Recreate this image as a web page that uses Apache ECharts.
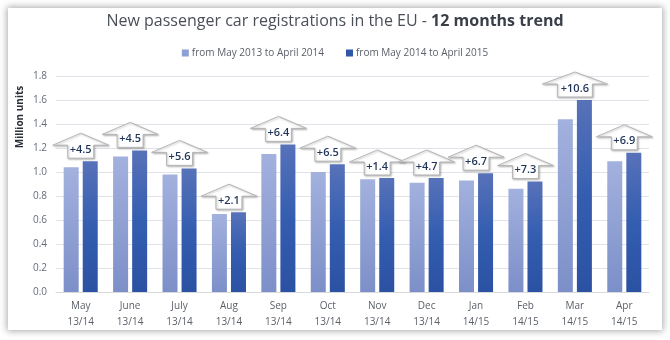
<!DOCTYPE html>
<html>
<head>
<meta charset="utf-8">
<script src="https://cdn.jsdelivr.net/npm/echarts@6/dist/echarts.min.js"></script>
<style>
  html, body { margin: 0; padding: 0; background: #ffffff; }
  #panel { position: absolute; left: 8px; top: 8px; width: 654px; height: 322px;
           background: #ffffff; box-shadow: 0 0 7px 1px rgba(0,0,0,0.35); }
  #chart { position: absolute; left: 0; top: 0; width: 670px; height: 340px; }
</style>
</head>
<body>
<div id="panel"></div>
<div id="chart"></div>
<script>
// Monthly new passenger car registrations (million units)
const months = ['May', 'June', 'July', 'Aug', 'Sep', 'Oct', 'Nov', 'Dec', 'Jan', 'Feb', 'Mar', 'Apr'];
const seasons = ['13/14', '13/14', '13/14', '13/14', '13/14', '13/14', '13/14', '13/14', '14/15', '14/15', '14/15', '14/15'];
const prevYear = [1.04, 1.13, 0.98, 0.65, 1.15, 1.00, 0.94, 0.91, 0.93, 0.86, 1.44, 1.09];
const currYear = [1.09, 1.18, 1.03, 0.665, 1.23, 1.065, 0.95, 0.95, 0.99, 0.92, 1.60, 1.16];
// Year-on-year change (%) shown in the arrows
const changes = ['+4.5', '+4.5', '+5.6', '+2.1', '+6.4', '+6.5', '+1.4', '+4.7', '+6.7', '+7.3', '+10.6', '+6.9'];
const yTicks = { min: 0, max: 1.8, interval: 0.2 };

const seriesNames = ['from May 2013 to April 2014', 'from May 2014 to April 2015'];
const categories = months.map((m, i) => m + '\n' + seasons[i]);

const chart = echarts.init(document.getElementById('chart'), null, { renderer: 'canvas' });

const lightGrad = new echarts.graphic.LinearGradient(0, 0, 0, 1, [
  { offset: 0, color: '#a3b1de' }, { offset: 1, color: '#7c8fc8' }
]);
const darkGrad = new echarts.graphic.LinearGradient(0, 0, 0, 1, [
  { offset: 0, color: '#5772b9' }, { offset: 0.5, color: '#345db0' }, { offset: 1, color: '#2b51a2' }
]);

// Up-arrow callout sitting above each pair of bars
function renderArrow(params, api) {
  const idx = api.value(0);
  const top = api.value(1);
  const label = changes[idx];
  const p = api.coord([idx, top]);
  const cx = p[0];
  const bottom = p[1] - 3;
  const boxW = label.length * 9 - 10;
  const headW = boxW + 30;
  const boxH = 13, headH = 12;
  const pts = [
    [cx - boxW / 2, bottom], [cx + boxW / 2, bottom], [cx + boxW / 2, bottom - boxH],
    [cx + headW / 2, bottom - boxH], [cx, bottom - boxH - headH], [cx - headW / 2, bottom - boxH],
    [cx - boxW / 2, bottom - boxH]
  ];
  return {
    type: 'group',
    children: [
      {
        type: 'polygon',
        shape: { points: pts },
        style: {
          fill: '#ffffff', stroke: '#b5b5b5', lineWidth: 1,
          shadowColor: 'rgba(0,0,0,0.25)', shadowBlur: 2, shadowOffsetX: 1, shadowOffsetY: 1
        }
      },
      {
        type: 'text',
        x: cx, y: bottom - boxH / 2 - 2,
        style: {
          text: label, fill: '#1f3458', font: '600 11px "Open Sans", sans-serif',
          align: 'center', verticalAlign: 'middle'
        }
      }
    ]
  };
}

const arrowData = currYear.map((v, i) => [i, Math.max(v, prevYear[i])]);

chart.setOption({
  animation: false,
  title: {
    text: '{a|New passenger car registrations in the EU - }{b|12 months trend}',
    left: 'center', top: 8,
    textStyle: {
      rich: {
        a: { fontFamily: 'Open Sans', fontSize: 16, color: '#4a4f58', fontWeight: 'normal' },
        b: { fontFamily: 'Open Sans', fontSize: 16, color: '#3a3f48', fontWeight: 'bold' }
      }
    }
  },
  legend: {
    top: 43, left: 'center', itemWidth: 7, itemHeight: 7, itemGap: 22,
    icon: 'rect',
    textStyle: { fontFamily: 'Open Sans', fontSize: 10, color: '#5a5f68', padding: [0, 0, 0, -2] },
    data: [
      { name: seriesNames[0], itemStyle: { color: '#8ea0d6' } },
      { name: seriesNames[1], itemStyle: { color: '#3157a8' } }
    ]
  },
  grid: { left: 56, right: 21, top: 76, bottom: 48, containLabel: false },
  xAxis: {
    type: 'category', data: categories,
    axisLine: { lineStyle: { color: '#d6d9de' } },
    axisTick: { show: false },
    axisLabel: { fontFamily: 'Open Sans', fontSize: 10, color: '#5a5f68', lineHeight: 16, margin: 6 }
  },
  yAxis: {
    type: 'value', min: yTicks.min, max: yTicks.max, interval: yTicks.interval,
    axisLine: { show: false }, axisTick: { show: false },
    splitLine: { lineStyle: { color: '#dfe2e8' } },
    axisLabel: {
      fontFamily: 'Open Sans', fontSize: 10, color: '#646c7c', margin: 9,
      formatter: v => v.toFixed(1)
    }
  },
  graphic: [{
    type: 'text', x: 20, y: 117, rotation: Math.PI / 2,
    style: {
      text: 'Million units', fill: '#2a2f38', font: 'bold 10px "Open Sans", sans-serif',
      align: 'center', verticalAlign: 'middle'
    }
  }],
  series: [
    {
      name: seriesNames[0], type: 'bar', data: prevYear, barWidth: 15, barGap: '27%',
      itemStyle: { color: lightGrad }
    },
    {
      name: seriesNames[1], type: 'bar', data: currYear, barWidth: 15,
      itemStyle: { color: darkGrad }
    },
    {
      type: 'custom', renderItem: renderArrow, data: arrowData,
      encode: { x: 0, y: 1 }, z: 5, silent: true
    }
  ]
});
</script>
</body>
</html>
